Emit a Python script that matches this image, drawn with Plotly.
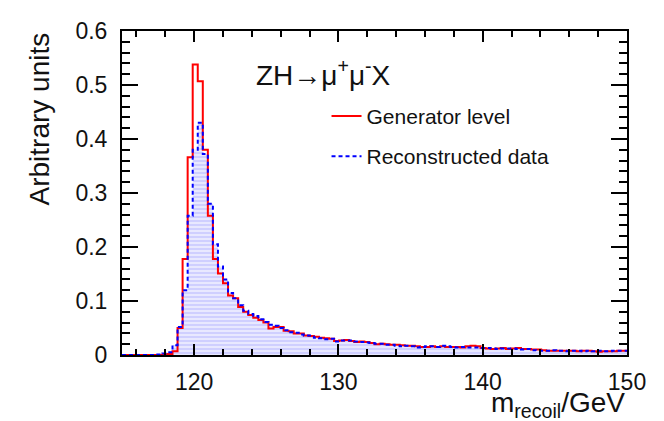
import numpy as np
import plotly.graph_objects as go

# Histogram binning (100 bins, 115-150 GeV)
x_min = 115.0
bin_width = 0.35
n_bins = 100

generator_level = [0, 0, 0, 0, 0, 0, 0, 0, 0.001, 0.002,
                   0.007, 0.05, 0.178, 0.366, 0.538, 0.507, 0.38, 0.258, 0.178, 0.151,
                   0.133, 0.11, 0.105, 0.089, 0.08, 0.074, 0.069, 0.065, 0.06, 0.049,
                   0.052, 0.052, 0.045, 0.044, 0.040, 0.040, 0.036, 0.035, 0.034, 0.032,
                   0.031, 0.030, 0.026, 0.027, 0.028, 0.026, 0.024, 0.025, 0.024, 0.022,
                   0.020, 0.021, 0.020, 0.019, 0.019, 0.018, 0.017, 0.017, 0.016, 0.015,
                   0.015, 0.016, 0.015, 0.016, 0.015, 0.015, 0.015, 0.014, 0.016, 0.017,
                   0.016, 0.013, 0.012, 0.011, 0.012, 0.013, 0.011, 0.012, 0.013, 0.011,
                   0.011, 0.010, 0.010, 0.009, 0.008, 0.008, 0.008, 0.008, 0.008, 0.008,
                   0.007, 0.008, 0.008, 0.007, 0.006, 0.007, 0.007, 0.007, 0.008, 0.008]

reconstructed = [0, 0, 0, 0, 0, 0, 0, 0.001, 0.003, 0.005,
                 0.018, 0.052, 0.12, 0.258, 0.38, 0.43, 0.372, 0.28, 0.205, 0.164,
                 0.14, 0.115, 0.105, 0.092, 0.082, 0.076, 0.072, 0.066, 0.061, 0.056,
                 0.054, 0.05, 0.046, 0.042, 0.041, 0.038, 0.036, 0.036, 0.032, 0.031,
                 0.029, 0.030, 0.025, 0.027, 0.027, 0.027, 0.025, 0.024, 0.023, 0.022,
                 0.021, 0.021, 0.019, 0.019, 0.017, 0.016, 0.017, 0.016, 0.014, 0.015,
                 0.016, 0.016, 0.015, 0.017, 0.016, 0.015, 0.014, 0.015, 0.014, 0.014,
                 0.014, 0.013, 0.013, 0.012, 0.011, 0.012, 0.012, 0.012, 0.011, 0.010,
                 0.011, 0.009, 0.008, 0.008, 0.008, 0.009, 0.008, 0.008, 0.007, 0.008,
                 0.008, 0.007, 0.008, 0.007, 0.008, 0.007, 0.007, 0.008, 0.008, 0.008]

legend_labels = ["Generator level", "Reconstructed data"]
x_tick_vals = [120, 130, 140, 150]
y_tick_vals = [0, 0.1, 0.2, 0.3, 0.4, 0.5, 0.6]

edges = x_min + bin_width * np.arange(n_bins + 1)
xs = list(edges)
ys_gen = list(generator_level) + [generator_level[-1]]
ys_rec = list(reconstructed) + [reconstructed[-1]]

FONT = "Liberation Sans, Arial, Helvetica, sans-serif"

fig = go.Figure()
# filled area of reconstructed data
fig.add_trace(go.Scatter(
    x=xs, y=ys_rec, mode="lines", line=dict(shape="hv", width=0, color="rgba(0,0,0,0)"),
    fill="tozeroy", fillcolor="rgba(222,222,252,1)",
    fillpattern=dict(shape="-", fgcolor="rgba(110,110,255,0.6)", bgcolor="rgba(232,232,255,1)",
                     size=4, solidity=0.35),
    showlegend=False, hoverinfo="skip"))
fig.add_trace(go.Scatter(
    x=xs, y=ys_gen, mode="lines", name=legend_labels[0],
    line=dict(shape="hv", width=2, color="#ff0000"), legendgroup="a"))
fig.add_trace(go.Scatter(
    x=xs, y=ys_rec, mode="lines", name=legend_labels[1],
    line=dict(shape="hv", width=2, color="#0000ff", dash="4px,3px"), legendgroup="b"))

axis_common = dict(showgrid=False, zeroline=False, showline=True, linecolor="black", linewidth=2,
                   mirror="allticks", ticks="inside", tickcolor="black", tickwidth=2,
                   ticklabeloverflow="allow",
                   tickfont=dict(family=FONT, size=23, color="#111"))

fig.update_xaxes(range=[115, 150], tickvals=x_tick_vals, ticklen=11,
                 minor=dict(dtick=2, ticklen=6, ticks="inside", tickcolor="black", tickwidth=2),
                 ticklabelstandoff=5, **axis_common)
fig.update_yaxes(range=[0, 0.6], tickvals=y_tick_vals, ticklen=16,
                 minor=dict(dtick=0.02, ticklen=8, ticks="inside", tickcolor="black", tickwidth=2),
                 ticklabelstandoff=8, **axis_common)

fig.update_layout(
    width=656, height=413,
    margin=dict(l=114, r=37, t=10, b=66),
    paper_bgcolor="white", plot_bgcolor="white",
    font=dict(family=FONT, color="#111"),
    legend=dict(x=0.405, y=0.80, xanchor="left", yanchor="top", bgcolor="rgba(0,0,0,0)",
                font=dict(family=FONT, size=21, color="#111"), tracegroupgap=10),
    annotations=[
        dict(text="ZH→μ<sup>+</sup>μ<sup>-</sup>X", xref="paper", yref="paper", x=0.262, y=0.87,
             xanchor="left", yanchor="middle", showarrow=False,
             font=dict(family=FONT, size=28, color="#111")),
        dict(text="Arbitrary units", xref="paper", yref="paper", x=0, y=1, xshift=-83,
             xanchor="center", yanchor="top", textangle=-90, showarrow=False,
             font=dict(family=FONT, size=28, color="#111")),
        dict(text="m<sub>recoil</sub>/GeV", xref="paper", yref="paper", x=1, y=0, yshift=-30,
             xanchor="right", yanchor="top", showarrow=False,
             font=dict(family=FONT, size=28, color="#111")),
    ],
)

fig.write_html("out.html")
